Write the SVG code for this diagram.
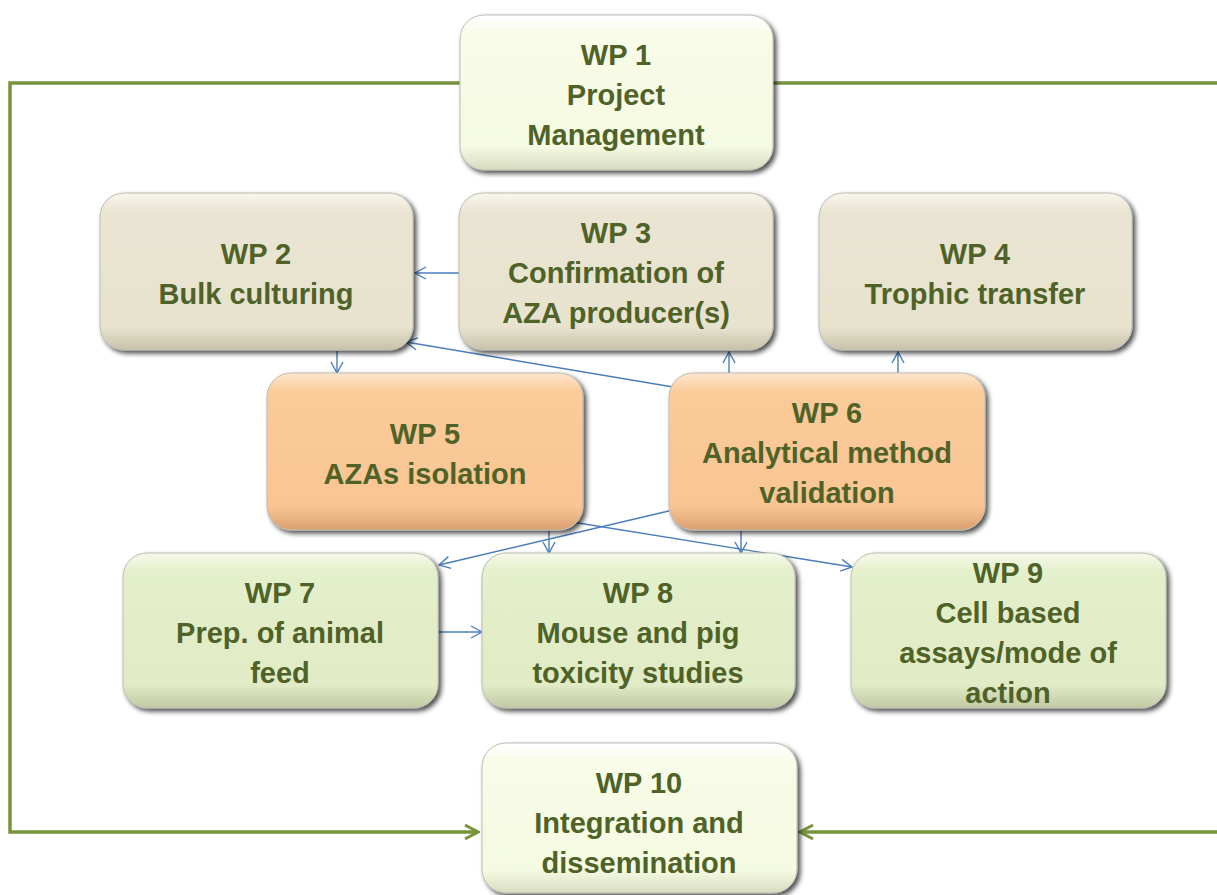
<svg xmlns="http://www.w3.org/2000/svg" width="1217" height="895" viewBox="0 0 1217 895">
<style>
.t{font-family:"Liberation Sans",Arial,sans-serif;font-weight:bold;font-size:29px;fill:#4F6228;text-anchor:middle}
.box{stroke:#BDBDB3;stroke-width:1;filter:url(#sh)}
.blue{stroke:#4A7EBB;stroke-width:1.4;fill:none;marker-end:url(#ab)}
.green{stroke:#77933C;stroke-width:3.5;fill:none}
</style>
<defs>
<filter id="sh" x="-10%" y="-10%" width="125%" height="130%">
<feGaussianBlur in="SourceAlpha" stdDeviation="2.5"/>
<feOffset dx="2.5" dy="3" result="b"/>
<feComponentTransfer><feFuncA type="linear" slope="0.7"/></feComponentTransfer>
<feMerge><feMergeNode/><feMergeNode in="SourceGraphic"/></feMerge>
</filter>
<linearGradient id="gW" x1="0" y1="0" x2="0" y2="1">
<stop offset="0" stop-color="#FFFFFF"/><stop offset="0.12" stop-color="#F8FCE8"/><stop offset="0.85" stop-color="#F5FAE2"/><stop offset="1" stop-color="#D6DCC0"/>
</linearGradient>
<linearGradient id="gB" x1="0" y1="0" x2="0" y2="1">
<stop offset="0" stop-color="#F8F6EE"/><stop offset="0.12" stop-color="#EAE5D2"/><stop offset="0.85" stop-color="#E8E3CF"/><stop offset="1" stop-color="#C8C2AA"/>
</linearGradient>
<linearGradient id="gO" x1="0" y1="0" x2="0" y2="1">
<stop offset="0" stop-color="#FFE6CC"/><stop offset="0.12" stop-color="#FBCB9A"/><stop offset="0.85" stop-color="#F9C593"/><stop offset="1" stop-color="#D9A070"/>
</linearGradient>
<linearGradient id="gG" x1="0" y1="0" x2="0" y2="1">
<stop offset="0" stop-color="#F6FAEA"/><stop offset="0.12" stop-color="#E4EFCB"/><stop offset="0.85" stop-color="#E1ECC6"/><stop offset="1" stop-color="#BFCAA5"/>
</linearGradient>
<marker id="ab" viewBox="0 0 14 14" refX="13" refY="7" markerWidth="14" markerHeight="14" markerUnits="userSpaceOnUse" orient="auto">
<path d="M2,1 L13,7 L2,13" fill="none" stroke="#4A7EBB" stroke-width="1.4"/>
</marker>
<marker id="ag" viewBox="0 0 18 18" refX="16" refY="9" markerWidth="18" markerHeight="18" markerUnits="userSpaceOnUse" orient="auto">
<path d="M3,2 L16,9 L3,16" fill="none" stroke="#77933C" stroke-width="3"/>
</marker>
</defs>
<rect width="1217" height="895" fill="#FFFFFF"/>
<g id="connectors">
<polyline class="green" points="460,83 10,83 10,832 478,832" marker-end="url(#ag)"/>
<line class="green" x1="773" y1="83" x2="1217" y2="83"/>
<line class="green" x1="1217" y1="832" x2="800" y2="832" marker-end="url(#ag)"/>
<line class="blue" x1="459" y1="273" x2="415" y2="273"/>
<line class="blue" x1="673" y1="387" x2="406" y2="342"/>
<line class="blue" x1="337" y1="351" x2="337" y2="373"/>
<line class="blue" x1="729" y1="373" x2="729" y2="352"/>
<line class="blue" x1="898" y1="373" x2="898" y2="352"/>
<line class="blue" x1="549" y1="531" x2="549" y2="553"/>
<line class="blue" x1="741" y1="531" x2="741" y2="553"/>
<line class="blue" x1="673" y1="510" x2="439" y2="565"/>
<line class="blue" x1="572" y1="522" x2="852" y2="567"/>
<line class="blue" x1="439" y1="632" x2="482" y2="632"/>
</g>
<g id="wp1"><rect class="box" x="460" y="15" width="313" height="155" rx="24" fill="url(#gW)"/>
<text class="t" x="616" y="65">WP 1</text><text class="t" x="616" y="105">Project</text><text class="t" x="616" y="145">Management</text></g>
<g id="wp2"><rect class="box" x="100" y="193" width="313" height="157" rx="24" fill="url(#gB)"/>
<text class="t" x="256" y="264">WP 2</text><text class="t" x="256" y="304">Bulk culturing</text></g>
<g id="wp3"><rect class="box" x="459" y="193" width="314" height="157" rx="24" fill="url(#gB)"/>
<text class="t" x="616" y="243">WP 3</text><text class="t" x="616" y="283">Confirmation of</text><text class="t" x="616" y="323">AZA producer(s)</text></g>
<g id="wp4"><rect class="box" x="819" y="193" width="313" height="157" rx="24" fill="url(#gB)"/>
<text class="t" x="975" y="264">WP 4</text><text class="t" x="975" y="304">Trophic transfer</text></g>
<g id="wp5"><rect class="box" x="267" y="373" width="316" height="157" rx="24" fill="url(#gO)"/>
<text class="t" x="425" y="444">WP 5</text><text class="t" x="425" y="484">AZAs isolation</text></g>
<g id="wp6"><rect class="box" x="669" y="373" width="316" height="157" rx="24" fill="url(#gO)"/>
<text class="t" x="827" y="423">WP 6</text><text class="t" x="827" y="463">Analytical method</text><text class="t" x="827" y="503">validation</text></g>
<g id="wp7"><rect class="box" x="123" y="553" width="315" height="155" rx="24" fill="url(#gG)"/>
<text class="t" x="280" y="603">WP 7</text><text class="t" x="280" y="643">Prep. of animal</text><text class="t" x="280" y="683">feed</text></g>
<g id="wp8"><rect class="box" x="482" y="553" width="313" height="155" rx="24" fill="url(#gG)"/>
<text class="t" x="638" y="603">WP 8</text><text class="t" x="638" y="643">Mouse and pig</text><text class="t" x="638" y="683">toxicity studies</text></g>
<g id="wp9"><rect class="box" x="851" y="553" width="315" height="155" rx="24" fill="url(#gG)"/>
<text class="t" x="1008" y="583">WP 9</text><text class="t" x="1008" y="623">Cell based</text><text class="t" x="1008" y="663">assays/mode of</text><text class="t" x="1008" y="703">action</text></g>
<g id="wp10"><rect class="box" x="482" y="743" width="315" height="150" rx="24" fill="url(#gW)"/>
<text class="t" x="639" y="793">WP 10</text><text class="t" x="639" y="833">Integration and</text><text class="t" x="639" y="873">dissemination</text></g>
</svg>
